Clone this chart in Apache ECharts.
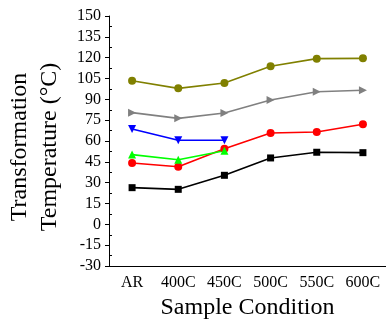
<!DOCTYPE html>
<html>
<head>
<meta charset="utf-8">
<script src="https://cdn.jsdelivr.net/npm/echarts@6/dist/echarts.min.js"></script>
<style>html,body{margin:0;padding:0;background:#fff;}#c{width:386px;height:321px;}</style>
</head>
<body>
<div id="c"></div>
<script>
const categories = ['AR', '400C', '450C', '500C', '550C', '600C'];
const yTicks = { min: -30, max: 150, interval: 15 };
const olive = [103.4, 97.9, 101.8, 113.8, 119.3, 119.5];
const gray = [80.4, 76.3, 80.2, 89.5, 95.5, 96.5];
const blue = [68.6, 60.5, 60.5, null, null, null];
const red = [44.2, 41.5, 54.5, 65.8, 66.5, 72.0];
const green = [50.2, 46.5, 53.0, null, null, null];
const black = [26.4, 25.2, 35.3, 47.8, 51.9, 51.6];

const font = 'Liberation Serif';
function s(data, color, symbol, rot) {
  return {
    type: 'line', data: data, xAxisIndex: 0, yAxisIndex: 0,
    symbol: symbol, symbolSize: symbol === 'rect' ? 7 : 8, symbolRotate: rot || 0,
    lineStyle: { color: color, width: 1.6 },
    itemStyle: { color: color },
    connectNulls: false, animation: false
  };
}
const chart = echarts.init(document.getElementById('c'));
chart.setOption({
  animation: false,
  grid: { left: 109, right: 0, top: 16, bottom: 55, outerBoundsMode: 'none', containLabel: false },
  xAxis: [{
    type: 'category', data: categories, boundaryGap: true,
    axisLine: { onZero: false, lineStyle: { color: '#000', width: 1 } },
    axisTick: { alignWithLabel: true, interval: 0, length: 4, lineStyle: { color: '#000' } },
    axisLabel: { interval: 0, color: '#000', fontFamily: font, fontSize: 16, margin: 9 },
    name: 'Sample Condition', nameLocation: 'middle', nameGap: 30, nameMoveOverlap: false,
    nameTextStyle: { color: '#000', fontFamily: font, fontSize: 24 }
  }, {
    type: 'category', data: categories, boundaryGap: true, position: 'bottom',
    axisLine: { show: false, onZero: false },
    axisTick: { inside: true, interval: 0, length: 3, lineStyle: { color: '#000' } },
    axisLabel: { show: false }
  }],
  yAxis: [{
    type: 'value', min: yTicks.min, max: yTicks.max, interval: yTicks.interval,
    axisLine: { show: true, onZero: false, lineStyle: { color: '#000', width: 1 } },
    axisTick: { show: true, length: 4, lineStyle: { color: '#000' } },
    splitLine: { show: false },
    axisLabel: { color: '#000', fontFamily: font, fontSize: 16, margin: 8 },
    name: 'Transformation\nTemperature (°C)', nameLocation: 'middle', nameGap: 44, nameMoveOverlap: false,
    nameTextStyle: { color: '#000', fontFamily: font, fontSize: 24, lineHeight: 30, padding: [0, 0, 0, -12] }
  }, {
    type: 'value', position: 'left', min: yTicks.min, max: yTicks.max, interval: yTicks.interval,
    axisLine: { show: false, onZero: false },
    axisTick: { show: false, inside: true },
    minorTick: { show: true, splitNumber: 2, length: 3, lineStyle: { color: '#000' } },
    splitLine: { show: false },
    axisLabel: { show: false }
  }],
  series: [
    s(olive, '#808000', 'circle'),
    s(gray, '#808080', 'triangle', -90),
    s(blue, '#0000ff', 'triangle', 180),
    s(red, '#ff0000', 'circle'),
    s(green, '#00ff00', 'triangle'),
    s(black, '#000000', 'rect')
  ]
});
</script>
</body>
</html>
